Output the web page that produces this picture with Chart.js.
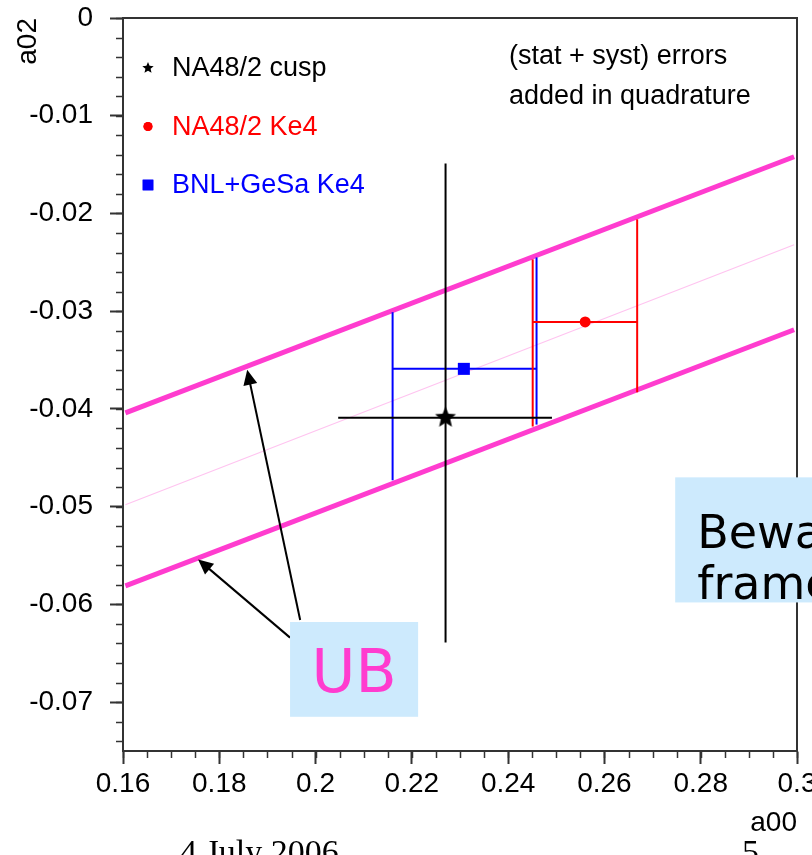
<!DOCTYPE html>
<html>
<head>
<meta charset="utf-8">
<script src="https://cdn.jsdelivr.net/npm/chart.js@4.4.0/dist/chart.umd.min.js"></script>
<style>
  html, body { margin: 0; padding: 0; background: #fff; overflow: hidden; }
</style>
</head>
<body>
<canvas id="chart" width="812" height="855"></canvas>
<script>
// axis ranges
const xMin = 0.16, xMax = 0.30;
const yMin = -0.075, yMax = 0;

// UB band: a00 at both ends, a02 of each edge
const bandA00 = [0.1605, 0.2994];
const bandUpper = [-0.0404, -0.0142];
const bandLower = [-0.0581, -0.0319];
const bandCentre = [-0.0498, -0.0232];

// measurements
const expNames = ['NA48/2 cusp', 'NA48/2 Ke4', 'BNL+GeSa Ke4'];
const expColors = ['#000000', '#ff0000', '#0000ff'];
const expA00 = [0.2270, 0.2560, 0.2308];
const expA02 = [-0.0409, -0.0311, -0.0359];
const expA00Lo = [0.2047, 0.2451, 0.2160];
const expA00Hi = [0.2491, 0.2668, 0.2459];
// cusp: vertical error at the central a00
const cuspA02Lo = -0.0639, cuspA02Hi = -0.0149;
// Ke4: vertical error drawn at the low / high a00 ends (index 1 = NA48/2, 2 = BNL)
const leftBarLo = [null, -0.0418, -0.0473];
const leftBarHi = [null, -0.0247, -0.0301];
const rightBarLo = [null, -0.0383, -0.0416];
const rightBarHi = [null, -0.0206, -0.0245];

// annotations
const arrowTailA00 = [0.1968, 0.1947];
const arrowTailA02 = [-0.0616, -0.0634];
const arrowTipA00 = [0.1858, 0.1756];
const arrowTipA02 = [-0.0360, -0.0554];
const ubBoxA00 = [0.1947, 0.2213];
const ubBoxA02 = [-0.0618, -0.0715];
const bewareBoxA00 = [0.2747, 0.3100];
const bewareBoxA02 = [-0.0470, -0.0598];

const MAGENTA = '#ff3ccf';

function starImage(r, color) {
  const c = document.createElement('canvas');
  c.width = c.height = Math.ceil(2 * r + 2);
  const g = c.getContext('2d');
  g.fillStyle = color;
  g.beginPath();
  for (let i = 0; i < 10; i++) {
    const a = -Math.PI / 2 + i * Math.PI / 5;
    const rr = i % 2 ? r * 0.45 : r;
    g.lineTo(c.width / 2 + rr * Math.cos(a), c.height / 2 + rr * Math.sin(a));
  }
  g.closePath();
  g.fill();
  return c;
}
const bigStar = starImage(11, '#000');
const smallStar = starImage(6, '#000');

function seg(x1, y1, x2, y2, color, w, order) {
  return {
    type: 'scatter',
    data: [{ x: x1, y: y1 }, { x: x2, y: y2 }],
    showLine: true, borderColor: color, borderWidth: w,
    pointRadius: 0, pointHoverRadius: 0, fill: false, order: order
  };
}

const datasets = [];
// band
datasets.push(seg(bandA00[0], bandCentre[0], bandA00[1], bandCentre[1], '#ffc4f0', 1.2, 20));
datasets.push(seg(bandA00[0], bandUpper[0], bandA00[1], bandUpper[1], MAGENTA, 5, 10));
datasets.push(seg(bandA00[0], bandLower[0], bandA00[1], bandLower[1], MAGENTA, 5, 10));
// error bars
for (let i = 0; i < expNames.length; i++) {
  datasets.push(seg(expA00Lo[i], expA02[i], expA00Hi[i], expA02[i], expColors[i], 2, 5));
  if (i === 0) {
    datasets.push(seg(expA00[i], cuspA02Lo, expA00[i], cuspA02Hi, expColors[i], 2, 5));
  } else {
    datasets.push(seg(expA00Lo[i], leftBarLo[i], expA00Lo[i], leftBarHi[i], expColors[i], 2, 5));
    datasets.push(seg(expA00Hi[i], rightBarLo[i], expA00Hi[i], rightBarHi[i], expColors[i], 2, 5));
  }
}
// central values
const markerStyles = [bigStar, 'circle', 'rect'];
const markerRadius = [11, 5.5, 8.5];
for (let i = 0; i < expNames.length; i++) {
  datasets.push({
    type: 'scatter', label: expNames[i],
    data: [{ x: expA00[i], y: expA02[i] }],
    pointStyle: markerStyles[i], pointRadius: markerRadius[i],
    backgroundColor: expColors[i], borderColor: expColors[i], borderWidth: 0,
    order: 1
  });
}

const fmt = v => String(+Number(v).toFixed(3));

const decorations = {
  id: 'decorations',
  afterDraw(chart) {
    const { ctx, chartArea: a, scales: { x, y } } = chart;
    ctx.save();
    // top and right frame
    ctx.strokeStyle = '#333';
    ctx.lineWidth = 2;
    ctx.beginPath();
    ctx.moveTo(a.left, a.top); ctx.lineTo(a.right, a.top); ctx.lineTo(a.right, a.bottom);
    ctx.stroke();
    // minor ticks
    ctx.lineWidth = 1.5;
    for (let i = 0; i <= 28; i++) {
      const px = Math.round(x.getPixelForValue(xMin + i * 0.005)) + 0.5;
      ctx.beginPath(); ctx.moveTo(px, a.bottom); ctx.lineTo(px, a.bottom + 7); ctx.stroke();
    }
    for (let i = 0; i <= 37; i++) {
      const py = Math.round(y.getPixelForValue(-i * 0.002)) + 0.5;
      ctx.beginPath(); ctx.moveTo(a.left, py); ctx.lineTo(a.left - 7, py); ctx.stroke();
    }
    // legend
    const legendStyles = [smallStar, 'circle', 'rect'];
    const legendRadius = [6, 4.5, 7.5];
    ctx.font = '27px "Liberation Sans", Arial, sans-serif';
    ctx.textBaseline = 'middle';
    ctx.textAlign = 'left';
    for (let i = 0; i < expNames.length; i++) {
      const ry = 68 + i * 58.5;
      ctx.fillStyle = expColors[i];
      ctx.strokeStyle = expColors[i];
      Chart.helpers.drawPoint(ctx, { pointStyle: legendStyles[i], radius: legendRadius[i], borderWidth: 0, rotation: 0 }, 148, ry);
      ctx.fill();
      ctx.fillText(expNames[i], 172, ry + 1);
    }
    // note
    ctx.fillStyle = '#000';
    ctx.font = '27px "Liberation Sans", Arial, sans-serif';
    ctx.fillText('(stat + syst) errors', 509, 57);
    ctx.fillText('added in quadrature', 509, 97);
    // arrows
    ctx.strokeStyle = '#000';
    ctx.fillStyle = '#000';
    ctx.lineWidth = 2;
    for (let i = 0; i < arrowTipA00.length; i++) {
      const x1 = x.getPixelForValue(arrowTailA00[i]), y1 = y.getPixelForValue(arrowTailA02[i]);
      const x2 = x.getPixelForValue(arrowTipA00[i]), y2 = y.getPixelForValue(arrowTipA02[i]);
      const ang = Math.atan2(y2 - y1, x2 - x1), L = 15, W = 7;
      ctx.beginPath(); ctx.moveTo(x1, y1);
      ctx.lineTo(x2 - (L - 2) * Math.cos(ang), y2 - (L - 2) * Math.sin(ang)); ctx.stroke();
      ctx.beginPath(); ctx.moveTo(x2, y2);
      ctx.lineTo(x2 - L * Math.cos(ang) + W * Math.sin(ang), y2 - L * Math.sin(ang) - W * Math.cos(ang));
      ctx.lineTo(x2 - L * Math.cos(ang) - W * Math.sin(ang), y2 - L * Math.sin(ang) + W * Math.cos(ang));
      ctx.closePath(); ctx.fill();
    }
    // boxes
    ctx.fillStyle = '#cdeafd';
    const ubL = x.getPixelForValue(ubBoxA00[0]), ubR = x.getPixelForValue(ubBoxA00[1]);
    const ubT = y.getPixelForValue(ubBoxA02[0]), ubB = y.getPixelForValue(ubBoxA02[1]);
    ctx.fillRect(ubL, ubT, ubR - ubL, ubB - ubT);
    const bwL = x.getPixelForValue(bewareBoxA00[0]), bwR = x.getPixelForValue(bewareBoxA00[1]);
    const bwT = y.getPixelForValue(bewareBoxA02[0]), bwB = y.getPixelForValue(bewareBoxA02[1]);
    ctx.fillRect(bwL, bwT, bwR - bwL, bwB - bwT);
    ctx.textBaseline = 'alphabetic';
    ctx.fillStyle = MAGENTA;
    ctx.textAlign = 'center';
    ctx.font = '60px "Comic Sans MS", "DejaVu Sans", sans-serif';
    ctx.fillText('UB', (ubL + ubR) / 2, ubT + 70);
    ctx.fillStyle = '#000';
    ctx.textAlign = 'left';
    ctx.font = '46px "Comic Sans MS", "DejaVu Sans", sans-serif';
    ctx.fillText('Beware', bwL + 22, bwT + 71);
    ctx.fillText('frame', bwL + 22, bwT + 122);
    // slide footer
    ctx.font = '34px "Liberation Serif", "Times New Roman", serif';
    ctx.fillText('4 July 2006', 180, 863);
    ctx.fillText('5', 742, 863);
    ctx.restore();
  }
};

const tickFont = { family: '"Liberation Sans", Arial, sans-serif', size: 28 };

new Chart(document.getElementById('chart'), {
  type: 'scatter',
  data: { datasets: datasets },
  options: {
    responsive: false,
    animation: false,
    events: [],
    layout: { padding: { top: 18, right: 15, bottom: 0, left: 0 } },
    plugins: { legend: { display: false }, tooltip: { enabled: false } },
    scales: {
      x: {
        type: 'linear', min: xMin, max: xMax,
        border: { display: true, color: '#333', width: 2 },
        grid: { drawOnChartArea: false, drawTicks: true, tickLength: 13, tickWidth: 2, tickColor: '#333' },
        ticks: { stepSize: 0.02, color: '#000', font: tickFont, padding: 3, maxRotation: 0, callback: fmt },
        title: { display: true, text: 'a00', align: 'end', color: '#000', font: tickFont, padding: { top: 0, bottom: 15 } },
        afterFit(scale) { scale.height = 104; scale.paddingLeft = 0; scale.paddingRight = 0; }
      },
      y: {
        type: 'linear', min: yMin, max: yMax,
        border: { display: true, color: '#333', width: 2 },
        grid: { drawOnChartArea: false, drawTicks: true, tickLength: 13, tickWidth: 2, tickColor: '#333' },
        ticks: { stepSize: 0.01, includeBounds: false, color: '#000', font: tickFont, padding: 17, callback: fmt },
        title: { display: true, text: 'a02', align: 'end', color: '#000', font: tickFont, padding: { top: 11, bottom: 0 } },
        afterFit(scale) { scale.width = 123; scale.paddingTop = 0; scale.paddingBottom = 0; }
      }
    }
  },
  plugins: [decorations]
});
</script>
</body>
</html>
